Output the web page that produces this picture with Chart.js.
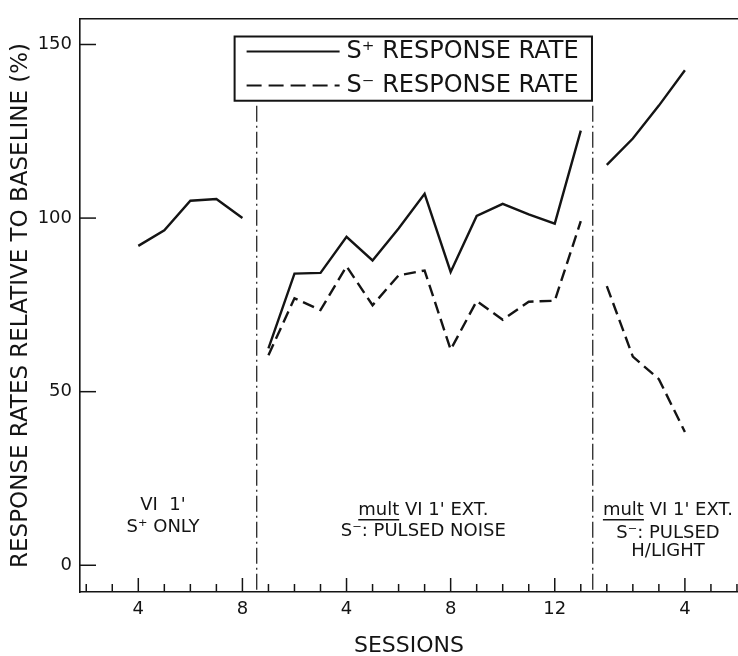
<!DOCTYPE html>
<html>
<head>
<meta charset="utf-8">
<script src="https://cdn.jsdelivr.net/npm/chart.js@4"></script>
<style>
  html, body { margin: 0; padding: 0; background: #fff; }
  canvas { display: block; }
</style>
</head>
<body>
<canvas id="chart" width="738" height="656"></canvas>
<script>
// sessions per phase and the % of baseline
const phase1Sessions = [4, 5, 6, 7, 8];
const phase1SPlus = [92, 96.5, 105, 105.5, 100];

const phase2Sessions = [1, 2, 3, 4, 5, 6, 7, 8, 9, 10, 11, 12, 13];
const phase2SPlus  = [62.5, 84, 84.2, 94.6, 87.8, 97, 107, 84.5, 100.6, 104.1, 101.1, 98.4, 125.2];
const phase2SMinus = [60.5, 76.9, 73.5, 86.1, 74.9, 83.5, 84.9, 62.1, 76.1, 70.7, 75.9, 76.2, 99.1];

const phase3Sessions = [1, 2, 3, 4];
const phase3SPlus  = [115.3, 122.9, 132.4, 142.6];
const phase3SMinus = [80.4, 60.1, 53.6, 38.4];

// phases sit end to end on one session axis
const phaseOffsets = [0, 8, 21];
const phaseBreaks = [8.55, 21.46];

const xTickValues = [4, 8, 12, 16, 20, 25];
const xTickLabels = ['4', '8', '4', '8', '12', '4'];
const yTicks = [0, 50, 100, 150];

const ink = '#141414';
const family = '"DejaVu Sans", "Liberation Sans", sans-serif';

function toPoints(sessions, values, offset) {
  return sessions.map((s, i) => ({ x: s + offset, y: values[i] }));
}

function line(ctx, x1, y1, x2, y2) {
  ctx.beginPath();
  ctx.moveTo(x1, y1);
  ctx.lineTo(x2, y2);
  ctx.stroke();
}

// phase captions: [text, x value, y value, underline the leading "mult"]
const captions = [
  ["VI  1'", 4.95, 17.4, false],
  ['S\u207A ONLY', 4.95, 10.8, false],
  ["mult VI 1' EXT.", 14.95, 15.7, true],
  ['S\u207B: PULSED NOISE', 14.95, 9.7, false],
  ["mult VI 1' EXT.", 24.35, 15.7, true],
  ['S\u207B: PULSED', 24.35, 9.1, false],
  ['H/LIGHT', 24.35, 4.0, false]
];

const paperPlugin = {
  id: 'paper',
  afterDraw(chart) {
    const { ctx, chartArea: a, scales: { x, y } } = chart;
    ctx.save();
    ctx.strokeStyle = ink;
    ctx.fillStyle = ink;

    // top frame
    ctx.lineWidth = 1.4;
    line(ctx, a.left, a.top, a.right, a.top);

    // inward tick marks
    ctx.lineWidth = 1.5;
    yTicks.forEach(v => {
      const py = y.getPixelForValue(v);
      line(ctx, a.left, py, a.left + 16, py);
    });
    for (let v = Math.ceil(x.min); v <= x.max; v++) {
      const px = x.getPixelForValue(v);
      const len = xTickValues.includes(v) ? 14 : 8;
      line(ctx, px, a.bottom, px, a.bottom - len);
    }

    // legend box
    const bl = x.getPixelForValue(7.7), br = x.getPixelForValue(21.43);
    const bt = y.getPixelForValue(152.3), bb = y.getPixelForValue(133.8);
    ctx.lineWidth = 2;
    ctx.strokeRect(bl, bt, br - bl, bb - bt);
    const row1 = bt + 15, row2 = bt + 49;
    ctx.lineWidth = 2.2;
    line(ctx, bl + 12, row1, bl + 105, row1);
    ctx.setLineDash([15, 7]);
    line(ctx, bl + 12, row2, bl + 105, row2);
    ctx.setLineDash([]);
    ctx.font = '24px ' + family;
    ctx.textBaseline = 'middle';
    ctx.textAlign = 'left';
    ctx.fillText('S\u207A RESPONSE RATE', bl + 112, row1);
    ctx.fillText('S\u207B RESPONSE RATE', bl + 112, row2);

    // phase dividers
    ctx.lineWidth = 1.2;
    ctx.setLineDash([16, 4, 2, 4]);
    phaseBreaks.forEach(v => {
      const px = x.getPixelForValue(v);
      line(ctx, px, bb + 5, px, a.bottom);
    });
    ctx.setLineDash([]);

    // captions
    ctx.font = '18px ' + family;
    ctx.textAlign = 'left';
    captions.forEach(([text, xv, yv, under]) => {
      const w = ctx.measureText(text).width;
      const sx = x.getPixelForValue(xv) - w / 2;
      const sy = y.getPixelForValue(yv);
      ctx.fillText(text, sx, sy);
      if (under) {
        ctx.lineWidth = 1.3;
        line(ctx, sx, sy + 9, sx + ctx.measureText('mult').width, sy + 9);
      }
    });
    ctx.restore();
  }
};

const solid = { borderColor: ink, borderWidth: 2.4, pointRadius: 0, tension: 0, fill: false };
const dashed = Object.assign({}, solid, { borderDash: [12, 6] });

new Chart(document.getElementById('chart'), {
  type: 'line',
  data: {
    datasets: [
      Object.assign({ label: 'S+ phase 1', data: toPoints(phase1Sessions, phase1SPlus, phaseOffsets[0]) }, solid),
      Object.assign({ label: 'S+ phase 2', data: toPoints(phase2Sessions, phase2SPlus, phaseOffsets[1]) }, solid),
      Object.assign({ label: 'S- phase 2', data: toPoints(phase2Sessions, phase2SMinus, phaseOffsets[1]) }, dashed),
      Object.assign({ label: 'S+ phase 3', data: toPoints(phase3Sessions, phase3SPlus, phaseOffsets[2]) }, solid),
      Object.assign({ label: 'S- phase 3', data: toPoints(phase3Sessions, phase3SMinus, phaseOffsets[2]) }, dashed)
    ]
  },
  options: {
    responsive: false,
    animation: false,
    devicePixelRatio: 1,
    layout: { padding: { top: 12, right: 0, left: 0, bottom: 0 } },
    plugins: { legend: { display: false }, tooltip: { enabled: false } },
    scales: {
      x: {
        type: 'linear', min: 1.76, max: 27.04,
        afterBuildTicks: s => { s.ticks = xTickValues.map(v => ({ value: v })); },
        afterFit: s => { s.height = 64; },
        grid: { display: false, drawTicks: false },
        border: { display: true, color: ink, width: 1.6 },
        ticks: {
          autoSkip: false, maxRotation: 0, color: ink, padding: 7,
          font: { family, size: 18 },
          callback: (v, i) => xTickLabels[i]
        },
        title: {
          display: true, text: 'SESSIONS', color: ink,
          font: { family, size: 22, lineHeight: 1 }, padding: { top: 0, bottom: -1 }
        }
      },
      y: {
        type: 'linear', min: -7.7, max: 157.4,
        afterBuildTicks: s => { s.ticks = yTicks.map(v => ({ value: v })); },
        afterFit: s => { s.width = 80; },
        grid: { display: false, drawTicks: false },
        border: { display: true, color: ink, width: 1.6 },
        ticks: { color: ink, padding: 8, font: { family, size: 18 } },
        title: {
          display: true, text: 'RESPONSE RATES RELATIVE TO BASELINE (%)', color: ink,
          font: { family, size: 23, lineHeight: 1 }, padding: { top: 10, bottom: 0 }
        }
      }
    }
  },
  plugins: [paperPlugin]
});
</script>
</body>
</html>
